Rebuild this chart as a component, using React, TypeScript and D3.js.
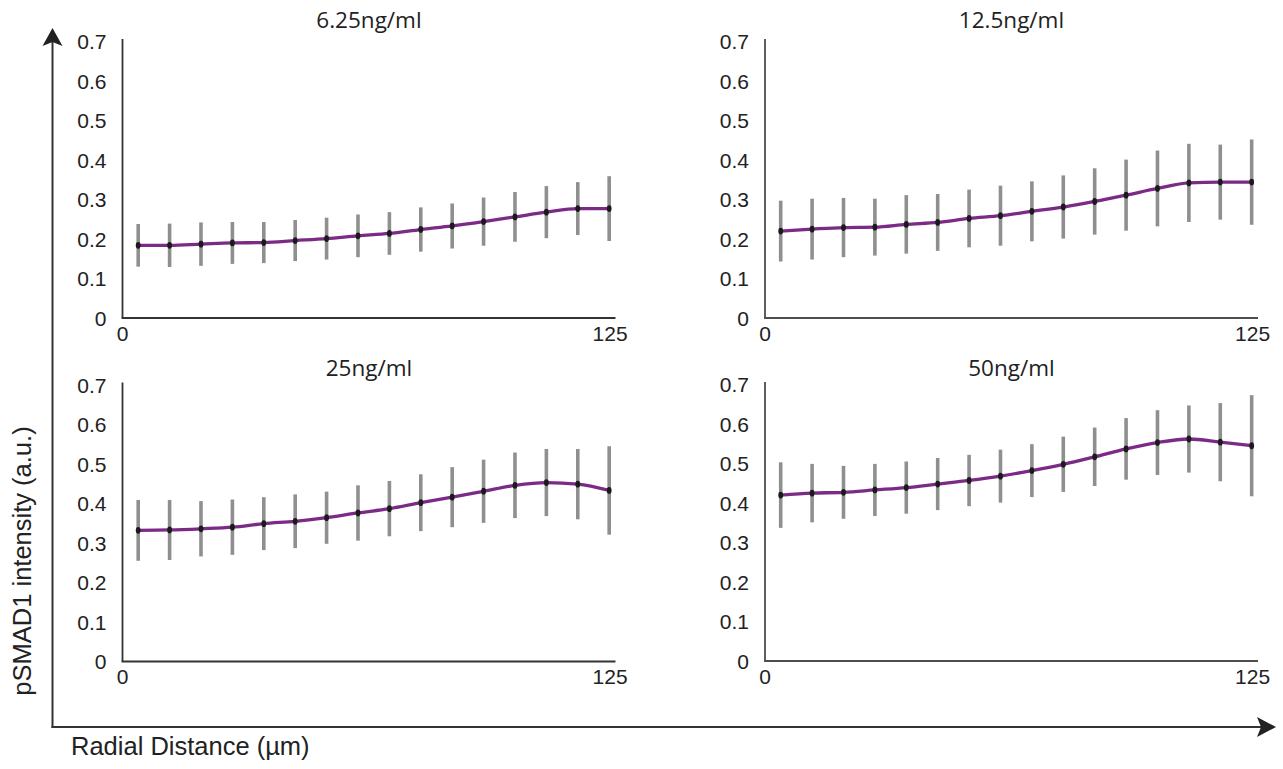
import React from 'react';
import { scaleLinear, line, curveMonotoneX } from 'd3';

// radial distance of each bin (µm)
const distances = [4, 12, 20, 28, 36, 44, 52, 60, 68, 76, 84, 92, 100, 108, 116, 124];

const titles = ['6.25ng/ml', '12.5ng/ml', '25ng/ml', '50ng/ml'];

const mean625 = [0.184, 0.184, 0.187, 0.19, 0.191, 0.196, 0.201, 0.208, 0.214, 0.224, 0.233, 0.244, 0.256, 0.268, 0.277, 0.277];
const err625 = [0.054, 0.055, 0.055, 0.053, 0.052, 0.052, 0.053, 0.054, 0.054, 0.056, 0.057, 0.061, 0.063, 0.066, 0.067, 0.082];

const mean125 = [0.22, 0.225, 0.229, 0.23, 0.237, 0.242, 0.252, 0.259, 0.27, 0.281, 0.295, 0.311, 0.328, 0.342, 0.344, 0.344];
const err125 = [0.077, 0.077, 0.075, 0.072, 0.074, 0.072, 0.073, 0.076, 0.076, 0.08, 0.084, 0.09, 0.096, 0.099, 0.095, 0.108];

const mean25 = [0.332, 0.333, 0.336, 0.34, 0.349, 0.355, 0.364, 0.376, 0.387, 0.402, 0.416, 0.431, 0.446, 0.453, 0.449, 0.433];
const err25 = [0.077, 0.076, 0.07, 0.07, 0.067, 0.068, 0.066, 0.07, 0.07, 0.072, 0.076, 0.08, 0.083, 0.085, 0.089, 0.112];

const mean50 = [0.42, 0.425, 0.427, 0.433, 0.439, 0.448, 0.457, 0.468, 0.482, 0.498, 0.517, 0.537, 0.553, 0.562, 0.554, 0.545];
const err50 = [0.083, 0.074, 0.067, 0.066, 0.066, 0.066, 0.065, 0.067, 0.067, 0.07, 0.074, 0.078, 0.082, 0.085, 0.099, 0.128];

const yTicks = [0, 0.1, 0.2, 0.3, 0.4, 0.5, 0.6, 0.7];
const xTicks = [0, 125];

const means = [mean625, mean125, mean25, mean50];
const errs = [err625, err125, err25, err50];

// where each small plot sits (left = y axis, base = x axis)
const layout = [
  { left: 122.5, base: 318, titleY: 27.5, axis: '#333' },
  { left: 765, base: 318, titleY: 27.5, axis: '#4d4d4d' },
  { left: 122.5, base: 661.5, titleY: 376, axis: '#333' },
  { left: 765, base: 661, titleY: 376, axis: '#4d4d4d' },
];

const PLOT_W = 490.6;
const PLOT_H = 276.5;

const tickFont = '"Liberation Sans", Arial, sans-serif';
const titleFont = '"Open Sans", "Noto Sans", sans-serif';

const Panel = ({ idx }: { idx: number }) => {
  const { left, base, titleY, axis } = layout[idx];
  const x = scaleLinear().domain([0, 125]).range([left, left + PLOT_W]);
  const y = scaleLinear().domain([0, 0.7]).range([base, base - PLOT_H]);
  const m = means[idx];
  const e = errs[idx];

  const path = line<number>()
    .x((_, i) => x(distances[i]))
    .y((d) => y(d))
    .curve(curveMonotoneX)(m);

  return (
    <g>
      <text
        x={left + 246.5}
        y={titleY}
        textAnchor="middle"
        fontFamily={titleFont}
        fontSize={22.5}
        fill="#222"
      >
        {titles[idx]}
      </text>

      {/* axes */}
      <line x1={left} x2={left} y1={y(0.7) - 2.5} y2={base} stroke={axis} strokeWidth={1.8} />
      <line x1={left - 0.9} x2={left + 493} y1={base} y2={base} stroke={axis} strokeWidth={1.8} />

      {yTicks.map((t) => (
        <text
          key={t}
          x={left - 16}
          y={y(t)}
          dy="0.36em"
          textAnchor="end"
          fontFamily={tickFont}
          fontSize={21}
          fill="#222"
        >
          {t === 0 ? '0' : t.toFixed(1)}
        </text>
      ))}
      {xTicks.map((t) => (
        <text
          key={t}
          x={t === 0 ? x(t) : x(t) - 3}
          y={base + 15}
          dy="0.36em"
          textAnchor="middle"
          fontFamily={tickFont}
          fontSize={21}
          fill="#222"
        >
          {t}
        </text>
      ))}

      {/* error bars */}
      {m.map((v, i) => (
        <line
          key={'e' + i}
          x1={x(distances[i])}
          x2={x(distances[i])}
          y1={y(v + e[i])}
          y2={y(v - e[i])}
          stroke="#8f8f8f"
          strokeWidth={3.6}
        />
      ))}

      <path d={path || ''} fill="none" stroke="#7b2a86" strokeWidth={3.3} />

      {m.map((v, i) => (
        <ellipse key={'p' + i} cx={x(distances[i])} cy={y(v)} rx={2.4} ry={3.4} fill="#1a1a1a" />
      ))}
    </g>
  );
};

const App = () => {
  return (
    <svg
      width={1283}
      height={769}
      style={{ position: 'absolute', left: 0, top: 0, background: '#fff' }}
    >
      {/* outer arrows */}
      <line x1={52.5} x2={52.5} y1={728} y2={40} stroke="#333" strokeWidth={2} />
      <path d="M52.5,28 L62.5,46 L52.5,42 L42.5,46 Z" fill="#222" />
      <line x1={51.5} x2={1262} y1={727} y2={727} stroke="#333" strokeWidth={2} />
      <path d="M1276,727 L1257,717 L1261,727 L1257,737 Z" fill="#222" />

      <text
        transform="translate(31,561) rotate(-90)"
        textAnchor="middle"
        fontFamily={tickFont}
        fontSize={25.5}
        fill="#222"
      >
        pSMAD1 intensity (a.u.)
      </text>
      <text x={71} y={755} fontFamily={tickFont} fontSize={25.5} fill="#222">
        Radial Distance (µm)
      </text>

      {titles.map((_, i) => (
        <Panel key={i} idx={i} />
      ))}
    </svg>
  );
};

export default App;
